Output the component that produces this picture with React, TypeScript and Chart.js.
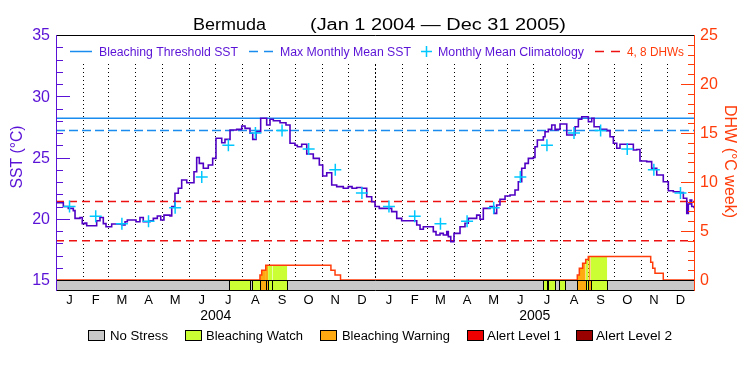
import React, { useEffect, useRef } from 'react';
import { Chart, registerables } from 'chart.js';

Chart.register(...registerables);

// ---------------- data ----------------
// x values are day numbers counted from Jan 1 2004 (day 0) to Jan 1 2006 (day 731)
const monthLetters = ['J', 'F', 'M', 'A', 'M', 'J', 'J', 'A', 'S', 'O', 'N', 'D'];
const monthLengths2004 = [31, 29, 31, 30, 31, 30, 31, 31, 30, 31, 30, 31];
const monthLengths2005 = [31, 28, 31, 30, 31, 30, 31, 31, 30, 31, 30, 31];
const yearLabels = ['2004', '2005'];

const climatology = [21.0, 20.2, 19.6, 19.8, 20.9, 23.4, 26.0, 27.0, 27.2, 25.7, 24.0, 22.1];
const bleachingThreshold = 28.2;
const maxMonthlyMean = 27.2;
const dhwLevels = [4, 8];

const sstTicks = [15, 20, 25, 30, 35];
const dhwTicks = [0, 5, 10, 15, 20, 25];

// [day, SST °C]
const sstReadings: [number, number][] = [
  [0, 21.31], [8.4, 21.0], [14.1, 20.85], [19.8, 20.66], [21.8, 20.03], [27.5, 20.1], [30.1, 19.6],
  [33.2, 19.65], [35.2, 19.43], [42.7, 19.43], [46.6, 19.84], [50.4, 20.1], [54.2, 19.6], [57.3, 19.35],
  [63.8, 19.57], [69.6, 19.57], [75.3, 19.49], [79.1, 19.76], [81.7, 19.9], [88.6, 19.9], [91.7, 19.76],
  [96.2, 20.1], [100, 19.76], [107.7, 19.84], [111.5, 20.03], [116.1, 20.22], [120, 19.9], [123.7, 20.3],
  [130.6, 20.22], [132.6, 21.0], [136.3, 22.08], [140.1, 22.49], [144, 23.16], [149.8, 22.94], [156.6, 22.94],
  [158.1, 23.84], [161.2, 25.0], [164.2, 24.52], [168.8, 24.12], [174.5, 24.39], [179.5, 24.93], [183.3, 26.57],
  [187.9, 26.57], [189.9, 26.2], [193.6, 26.48], [199.4, 27.24], [207, 27.3], [212.8, 27.57], [216.6, 27.38],
  [222.3, 26.98], [225.4, 26.48], [229.2, 27.1], [234.5, 28.2], [239.5, 28.2], [241.4, 27.65], [245.2, 28.12],
  [249, 28.0], [256.7, 27.84], [263.5, 27.65], [268.1, 26.16], [273.8, 26.0], [276.5, 25.88], [281.5, 26.08],
  [287.3, 25.29], [294.8, 24.93], [301.7, 24.39], [305.6, 23.49], [310.2, 23.76], [315.9, 22.76], [321.6, 22.62],
  [329.2, 22.49], [334.9, 22.62], [339.2, 22.49], [344.5, 22.55], [350.3, 22.49], [356, 21.8], [361.7, 21.39],
  [365.5, 21.0], [370.4, 20.85], [378.9, 20.85], [384.6, 20.58], [390.4, 20.03], [396.1, 19.84], [407.6, 19.84],
  [413.3, 19.49], [417.1, 19.14], [420.9, 19.35], [428.5, 19.35], [432.3, 18.95], [435.4, 18.67], [440, 18.81],
  [443.8, 18.67], [447.7, 18.95], [449.5, 18.54], [452.3, 18.13], [456, 18.81], [462.9, 19.35], [468.6, 19.63],
  [472.4, 20.03], [478.1, 20.03], [482, 20.3], [485.8, 19.96], [489.6, 20.85], [497.3, 21.0], [501.9, 20.44],
  [504.9, 21.12], [508.7, 21.59], [514.5, 21.86], [520.2, 21.94], [525.9, 22.35], [529.7, 23.02], [533.6, 24.12],
  [537.4, 24.52], [541.2, 24.93], [546.9, 25.0], [548.8, 25.88], [551.5, 26.43], [558.4, 26.7], [560.3, 27.1],
  [564.1, 27.3], [568, 27.65], [571.8, 27.24], [573.7, 27.3], [577.5, 27.73], [583.2, 27.73], [585.2, 26.84],
  [590.9, 26.84], [594.7, 27.51], [598.5, 28.12], [602.4, 28.33], [608.1, 28.33], [610, 27.92], [613.8, 28.2],
  [616.5, 27.51], [623.3, 27.3], [631, 27.19], [634.8, 26.7], [638.6, 26.16], [642.5, 25.75], [646.2, 26.08],
  [653.9, 26.08], [661.5, 25.61], [665.4, 25.65], [669.1, 24.71], [676.8, 24.66], [682.5, 24.12], [688.3, 23.57],
  [695.8, 23.02], [701.6, 22.29], [707.3, 22.2], [715, 22.13], [718.8, 21.67], [722.7, 20.44], [724.5, 21.2],
  [726.5, 21.53], [728.4, 21.0], [731, 20.85],
];

// Degree heating weeks: [day the value starts, DHW]
const dhwSteps: [number, number][] = [
  [0, 0], [233.7, 0.5], [235.7, 1.0], [240.3, 1.5], [315, 1.0], [319.7, 0.5], [326, 0],
  [597.3, 0.5], [599.6, 1.2], [603.4, 1.7], [606.9, 2.1], [609.9, 2.4], [681.4, 1.8], [683.7, 1.2],
  [686.3, 0.7], [695.8, 0], [731, 0],
];

// Stress level runs: [start day, end day, level] (0 none, 1 watch, 2 warning, 3 alert 1, 4 alert 2)
const stressRuns: [number, number, number][] = [
  [198.5, 222.3, 1], [225, 233.7, 1], [233.7, 240.5, 2], [240.5, 243, 2], [243, 248, 1], [248, 265, 1],
  [558.4, 563, 1], [564.1, 571.8, 1], [576.7, 583.2, 1], [597.3, 606.9, 2], [606.9, 609.9, 1],
  [609.9, 612.6, 2], [612.6, 631.6, 1],
];

const stressNames = ['No Stress', 'Bleaching Watch', 'Bleaching Warning', 'Alert Level 1', 'Alert Level 2'];
const stressColors = ['#c8c8c8', '#ccff33', '#ffaa11', '#ee0000', '#990000'];

const legendLabels = ['Bleaching Threshold SST', 'Max Monthly Mean SST', 'Monthly Mean Climatology', '4, 8 DHWs'];
const titleText = 'Bermuda';
const periodText = '(Jan 1 2004 \u2014 Dec 31 2005)';
const sstAxisTitle = 'SST (\u00B0C)';
const dhwAxisTitle = 'DHW (\u00B0C week)';

// ---------------- styling ----------------
const FONT = '"Liberation Sans", Arial, sans-serif';
const PURPLE = '#5a12d6';
const SST_COLOR = '#4f00c4';
const ORANGE = '#ff3c0a';
const BLUE = '#1a8cf0';
const CYAN = '#00c8ff';
const RED = '#ee1111';

// ---------------- derived calendar ----------------
const allMonthLengths = [...monthLengths2004, ...monthLengths2005];
const monthStarts: number[] = [];
allMonthLengths.reduce((acc, len) => { monthStarts.push(acc); return acc + len; }, 0);
const monthMids = monthStarts.map((s, i) => s + allMonthLengths[i] / 2);
const TOTAL_DAYS = allMonthLengths.reduce((a, b) => a + b, 0);
const yearMids = [183, 366 + 182.5];

function dhwAt(d: number) {
  let v = 0;
  for (const [day, val] of dhwSteps) if (day <= d + 1e-9) v = val;
  return v;
}
function fillPoints(s: number, e: number) {
  const pts = [{ x: s, y: dhwAt(s) }];
  for (const [day, val] of dhwSteps) if (day > s && day < e) pts.push({ x: day, y: val });
  pts.push({ x: e, y: pts[pts.length - 1].y });
  return pts;
}

function txt(ctx: CanvasRenderingContext2D, s: string, x: number, y: number, size: number, color: string,
  width?: number, rot = 0, center = false) {
  ctx.save();
  ctx.font = `${size}px ${FONT}`;
  ctx.fillStyle = color;
  ctx.textBaseline = 'alphabetic';
  ctx.textAlign = 'left';
  const w = ctx.measureText(s).width;
  const k = width ? width / w : 1;
  ctx.translate(x, y);
  if (rot) ctx.rotate(rot);
  ctx.scale(k, 1);
  ctx.fillText(s, center ? -w / 2 : 0, 0);
  ctx.restore();
}

const decorPlugin = {
  id: 'decor',
  beforeDatasetsDraw(chart: any) {
    const { ctx, chartArea: ca, scales } = chart;
    const xs = scales.x, ys = scales.y;
    const yTop = ca.top + 29;
    const yBot = ys.getPixelForValue(15);
    ctx.save();
    ctx.strokeStyle = '#000';
    ctx.lineWidth = 1;
    monthStarts.forEach((d) => {
      if (d <= 0) return;
      ctx.setLineDash(d === 366 ? [2, 2] : [1, 3]);
      const xp = Math.round(xs.getPixelForValue(d)) + 0.5;
      ctx.beginPath();
      ctx.moveTo(xp, yTop);
      ctx.lineTo(xp, yBot);
      ctx.stroke();
    });
    ctx.restore();
  },
  afterDatasetsDraw(chart: any) {
    const { ctx, chartArea: ca, scales } = chart;
    const xs = scales.x, ys = scales.y, y2 = scales.y2;
    const L = Math.round(ca.left), R = Math.round(ca.right), T = Math.round(ca.top), B = Math.round(ca.bottom);
    const barTop = Math.round(ys.getPixelForValue(15));
    ctx.save();
    ctx.fillStyle = stressColors[0];
    ctx.fillRect(L, barTop, R - L, B - barTop);
    ctx.lineWidth = 1;
    ctx.strokeStyle = '#000';
    for (const [s, e, lvl] of stressRuns) {
      const x1 = Math.round(xs.getPixelForValue(s));
      const x2 = Math.round(xs.getPixelForValue(e));
      ctx.fillStyle = stressColors[lvl];
      ctx.fillRect(x1, barTop, x2 - x1, B - barTop);
      ctx.strokeRect(x1 + 0.5, barTop + 0.5, x2 - x1, B - barTop);
    }
    const hline = (y: number, x1: number, x2: number) => {
      ctx.beginPath(); ctx.moveTo(x1, y + 0.5); ctx.lineTo(x2, y + 0.5); ctx.stroke();
    };
    const vline = (x: number, a: number, b: number) => {
      ctx.beginPath(); ctx.moveTo(x + 0.5, a); ctx.lineTo(x + 0.5, b); ctx.stroke();
    };
    ctx.strokeStyle = '#000';
    hline(barTop, L, R + 1);
    hline(B, L, R + 1);
    hline(T, L, R + 1);
    // left axis
    ctx.strokeStyle = PURPLE;
    vline(L, T, B + 1);
    for (let v = 16; v <= 34; v++) {
      const y = Math.round(ys.getPixelForValue(v));
      hline(y, L, L + (v % 5 === 0 ? 14 : 7));
    }
    // right axis
    ctx.strokeStyle = ORANGE;
    vline(R, T, B + 1);
    for (let v = 1; v <= 24; v++) {
      const y = Math.round(y2.getPixelForValue(v));
      hline(y, R + 1, R + 1 - (v % 5 === 0 ? 14 : 7));
    }
    ctx.restore();
  },
  afterDraw(chart: any) {
    const { ctx } = chart;
    // title
    txt(ctx, titleText, 193, 29.5, 16, '#000', 73);
    txt(ctx, periodText, 310, 29.5, 16, '#000', 256);
    // axis titles
    txt(ctx, sstAxisTitle, 22, 157, 16, PURPLE, 63, -Math.PI / 2, true);
    txt(ctx, dhwAxisTitle, 725, 161.5, 16, ORANGE, 113, Math.PI / 2, true);
    // top legend
    ctx.save();
    ctx.lineWidth = 1.5;
    ctx.strokeStyle = BLUE;
    ctx.beginPath(); ctx.moveTo(70, 51.5); ctx.lineTo(92, 51.5); ctx.stroke();
    ctx.beginPath(); ctx.moveTo(249, 51.5); ctx.lineTo(258, 51.5); ctx.moveTo(264, 51.5); ctx.lineTo(273, 51.5); ctx.stroke();
    ctx.strokeStyle = CYAN;
    ctx.beginPath(); ctx.moveTo(421, 51.5); ctx.lineTo(432, 51.5); ctx.moveTo(426.5, 46); ctx.lineTo(426.5, 57); ctx.stroke();
    ctx.strokeStyle = RED;
    ctx.beginPath(); ctx.moveTo(595, 51.5); ctx.lineTo(604, 51.5); ctx.moveTo(611, 51.5); ctx.lineTo(620, 51.5); ctx.stroke();
    ctx.restore();
    txt(ctx, legendLabels[0], 99, 55.5, 12, PURPLE, 139);
    txt(ctx, legendLabels[1], 280, 55.5, 12, PURPLE, 131);
    txt(ctx, legendLabels[2], 438, 55.5, 12, PURPLE, 146);
    txt(ctx, legendLabels[3], 627, 55.5, 12, ORANGE, 57);
    // bottom legend
    const boxX = [88, 185, 320, 467, 576];
    const textX = [110, 206, 342, 487, 596];
    const textW = [58, 97, 108, 74, 76];
    ctx.save();
    stressNames.forEach((name, i) => {
      ctx.fillStyle = stressColors[i];
      ctx.fillRect(boxX[i], 330, 16, 11);
      ctx.strokeStyle = '#000';
      ctx.lineWidth = 1;
      ctx.strokeRect(boxX[i] + 0.5, 330.5, 16, 10);
      txt(ctx, name, textX[i], 340, 12, '#000', textW[i]);
    });
    ctx.restore();
  },
};

export default function App() {
  const ref = useRef<HTMLCanvasElement>(null);
  useEffect(() => {
    const canvas = ref.current;
    if (!canvas) return;

    const sstData = sstReadings.map(([d, v]) => ({ x: d, y: v }));
    const climData = monthMids.map((d, i) => ({ x: d, y: climatology[i % 12] }));
    const dhwData = dhwSteps.map(([d, v]) => ({ x: d, y: v }));
    const fillSets = stressRuns
      .filter(([, , lvl]) => lvl > 0)
      .map(([s, e, lvl]) => ({
        data: fillPoints(s, e),
        yAxisID: 'y2',
        stepped: true,
        fill: 'origin',
        backgroundColor: stressColors[lvl],
        borderColor: 'rgba(0,0,0,0)',
        borderWidth: 0,
        pointRadius: 0,
      }));

    const chart = new Chart(canvas, {
      type: 'line',
      data: {
        datasets: [
          {
            data: climData, yAxisID: 'y', showLine: false, pointStyle: 'cross', pointRadius: 6,
            pointBorderColor: CYAN, pointBorderWidth: 1.5, borderColor: CYAN, backgroundColor: CYAN,
          },
          {
            data: sstData, yAxisID: 'y', borderColor: SST_COLOR, borderWidth: 1.6, pointRadius: 0, stepped: true,
          },
          {
            data: dhwData, yAxisID: 'y2', borderColor: ORANGE, borderWidth: 1.5, pointRadius: 0, stepped: true,
          },
          ...fillSets,
          {
            data: [{ x: 0, y: bleachingThreshold }, { x: TOTAL_DAYS, y: bleachingThreshold }],
            yAxisID: 'y', borderColor: BLUE, borderWidth: 1.5, pointRadius: 0,
          },
          {
            data: [{ x: 0, y: maxMonthlyMean }, { x: TOTAL_DAYS, y: maxMonthlyMean }],
            yAxisID: 'y', borderColor: BLUE, borderWidth: 1.5, pointRadius: 0, borderDash: [9, 4],
          },
          ...dhwLevels.map((lvl) => ({
            data: [{ x: 0, y: lvl }, { x: TOTAL_DAYS, y: lvl }],
            yAxisID: 'y2', borderColor: RED, borderWidth: 1.5, pointRadius: 0, borderDash: [8, 5],
          })),
        ] as any,
      },
      options: {
        responsive: false,
        animation: false,
        events: [],
        layout: { padding: { top: 35, bottom: 29, left: 0, right: 0 } },
        plugins: { legend: { display: false }, tooltip: { enabled: false }, title: { display: false } },
        scales: {
          x: {
            type: 'linear', position: 'bottom', min: 0, max: TOTAL_DAYS, weight: 0,
            grid: { display: false, drawTicks: false }, border: { display: false },
            afterBuildTicks: (s: any) => { s.ticks = monthMids.map((v) => ({ value: v })); },
            afterFit: (s: any) => { s.height = 16; },
            ticks: {
              autoSkip: false, maxRotation: 0, padding: 3, color: '#000',
              font: { family: FONT, size: 13 },
              callback: (_v: any, i: number) => monthLetters[i % 12],
            },
          },
          xYear: {
            type: 'linear', position: 'bottom', min: 0, max: TOTAL_DAYS, weight: 1,
            grid: { display: false, drawTicks: false }, border: { display: false },
            afterBuildTicks: (s: any) => { s.ticks = yearMids.map((v) => ({ value: v })); },
            afterFit: (s: any) => { s.height = 40; },
            ticks: {
              autoSkip: false, maxRotation: 0, padding: 2, color: '#000',
              font: { family: FONT, size: 14 },
              callback: (_v: any, i: number) => yearLabels[i],
            },
          },
          y: {
            type: 'linear', position: 'left', min: 15 - 10 / 12.25, max: 35,
            grid: { display: false, drawTicks: false }, border: { display: false },
            afterBuildTicks: (s: any) => { s.ticks = sstTicks.map((v) => ({ value: v })); },
            afterFit: (s: any) => { s.width = 56; },
            ticks: { padding: 6, labelOffset: 1, color: PURPLE, font: { family: FONT, size: 16 }, callback: (v: any) => String(v) },
          },
          y2: {
            type: 'linear', position: 'right', min: -10 / 9.8, max: 25,
            grid: { display: false, drawTicks: false }, border: { display: false },
            afterBuildTicks: (s: any) => { s.ticks = dhwTicks.map((v) => ({ value: v })); },
            afterFit: (s: any) => { s.width = 56; },
            ticks: { padding: 6, labelOffset: 1, color: ORANGE, font: { family: FONT, size: 16 }, callback: (v: any) => String(v) },
          },
        },
      } as any,
      plugins: [decorPlugin],
    });
    return () => chart.destroy();
  }, []);

  return (
    <div style={{ position: 'fixed', left: 0, top: 0, width: 750, height: 375, background: '#fff' }}>
      <canvas ref={ref} width={750} height={375} style={{ display: 'block', width: 750, height: 375 }} />
    </div>
  );
}
